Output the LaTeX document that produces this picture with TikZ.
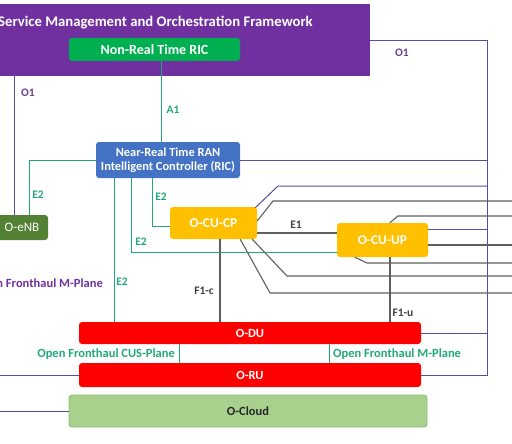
\documentclass[tikz,border=0pt]{standalone}
\usepackage{fontspec}
\setmainfont{Carlito}
\definecolor{smopurple}{HTML}{7030A0}
\definecolor{nrtgreen}{HTML}{00B050}
\definecolor{ricblue}{HTML}{4472C4}
\definecolor{enbgreen}{HTML}{548235}
\definecolor{cuorange}{HTML}{FFC000}
\definecolor{dured}{HTML}{FF0000}
\definecolor{cloudgreen}{HTML}{A9D18E}
\definecolor{cloudedge}{HTML}{8DB872}
\definecolor{ifgreen}{HTML}{22A878}
\definecolor{o1line}{HTML}{5E4A9E}
\definecolor{o1text}{HTML}{6A3F96}
\definecolor{grayline}{HTML}{5F5F5F}
\begin{document}
\begin{tikzpicture}[x=1pt,y=-1pt,
  box/.style={rectangle,rounded corners=3pt,inner sep=0pt,font=\bfseries,text=white},
  boxfont/.style={font=\bfseries\fontsize{12.5}{14}\selectfont},
  gline/.style={draw=ifgreen,line width=1pt},
  pline/.style={draw=o1line,line width=1pt},
  kline/.style={draw=grayline,line width=1.1pt},
  glabel/.style={font=\bfseries\fontsize{11.5}{13}\selectfont,text=ifgreen,inner sep=0pt},
  plabel/.style={font=\bfseries\fontsize{11.5}{13}\selectfont,text=o1text,inner sep=0pt},
  klabel/.style={font=\bfseries\fontsize{11.5}{13}\selectfont,text=black!75,inner sep=0pt},
  iflabel/.style={font=\bfseries\fontsize{12.5}{14}\selectfont,inner sep=0pt}]
\useasboundingbox (0,0) rectangle (512,444);
\clip (0,0) rectangle (512,444);
% boxes
\node[box,fill=smopurple,minimum width=385pt,minimum height=72pt,rounded corners=0pt] (smo) at (177.5,40) {};
\node[font=\bfseries\fontsize{14.7}{16}\selectfont,text=white,anchor=east,inner sep=0pt] (smotext) at (313,23) {Service Management and Orchestration Framework};
\node[box,fill=nrtgreen,minimum width=171pt,minimum height=23pt,font=\bfseries\fontsize{14}{15}\selectfont] (nonrt) at (154.5,49.5) {Non-Real Time RIC};
\node[box,fill=ricblue,minimum width=144pt,minimum height=36pt,align=center,font=\bfseries\fontsize{12.4}{14.5}\selectfont] (nearrt) at (168,160) {Near-Real Time RAN\\Intelligent Controller (RIC)};
\node[box,fill=enbgreen,minimum width=58pt,minimum height=25pt,font=\fontsize{13}{14}\selectfont] (oenb) at (19,227.5) {\hspace*{6pt}O-eNB};
\node[box,fill=cuorange,minimum width=87pt,minimum height=32pt,font=\bfseries\fontsize{13.5}{14}\selectfont] (cucp) at (213.5,223) {O-CU-CP};
\node[box,fill=cuorange,minimum width=91pt,minimum height=34pt,font=\bfseries\fontsize{13.5}{14}\selectfont] (cuup) at (382.5,240) {O-CU-UP};
\node[box,fill=dured,minimum width=342pt,minimum height=22pt,boxfont] (odu) at (250,333) {O-DU};
\node[box,fill=dured,minimum width=342pt,minimum height=24pt,boxfont] (oru) at (250,375) {O-RU};
\node[box,fill=cloudgreen,draw=cloudedge,line width=0.8pt,minimum width=358pt,minimum height=32pt,text=black!85,boxfont] (ocloud) at (248,411) {O-Cloud};
% coordinates
\coordinate (o1r) at (487,41);
\coordinate (o1b) at (487,375);
\coordinate (edge201) at (515,201);
\coordinate (edge216) at (515,216);
\coordinate (edge245) at (515,245);
\coordinate (edge263) at (515,263);
\coordinate (edge276) at (515,276);
\coordinate (edge293) at (515,293);
\coordinate (leftru) at (-5,375);
\coordinate (leftcl) at (-5,411);
% O1 lines
\draw[pline] (smo.east |- o1r) -- (o1r) -- (o1b) -- (oru.east |- o1b);
\draw[pline] (smo.south -| 14,0) -- (oenb.north -| 14,0);
\draw[pline] (nearrt.east) -- (nearrt.east -| o1r);
\draw[pline] (odu.east) -- (odu.east -| o1r);
\draw[pline] (cucp.north east) ++(-2,1) -- (278,186) -- (487,186);
\draw[pline] (cuup.east |- 0,229) -- (487,229);
\draw[pline] (oru.west) -- (leftru);
\draw[pline] (ocloud.west) -- (leftcl);
% gray lines
\draw[kline] (cucp.east |- 0,221) -- (273,201) -- (edge201);
\draw[kline] (cucp.south east) ++(-5,0) -- (287,276) -- (edge276);
\draw[kline] (cucp.south east) ++(-17,0) -- (270,293) -- (edge293);
\draw[kline] (cuup.north west) ++(53,0) -- (398,216) -- (edge216);
\draw[kline] (cuup.east |- 0,245) -- (edge245);
\draw[kline] (cuup.south west) ++(18,0) -- (367,263) -- (edge263);
\draw[kline] (cucp.east |- 0,233) -- (cuup.west |- 0,233);
\draw[kline] (cucp.south -| 220,0) -- (odu.north -| 220,0);
\draw[kline] (cuup.south -| 390,0) -- (odu.north -| 390,0);
% green lines
\draw[gline] (nonrt.south -| 161,0) -- (nearrt.north -| 161,0);
\draw[gline] (nearrt.west) -- (29,160) -- (oenb.north -| 29,0);
\draw[gline] (nearrt.south -| 152,0) |- (cucp.west |- 0,226);
\draw[gline] (nearrt.south -| 131,0) |- (cuup.west |- 0,252);
\draw[gline] (nearrt.south -| 114,0) -- (odu.north -| 114,0);
\draw[gline] (odu.south -| 179,0) -- (oru.north -| 179,0);
\draw[gline] (odu.south -| 329,0) -- (oru.north -| 329,0);
% labels
\node[plabel] (lo1r) at (402,53) {O1};
\node[plabel] (lo1l) at (28,93) {O1};
\node[glabel] (la1) at (173,110) {A1};
\node[glabel] (le2a) at (38,195) {E2};
\node[glabel] (le2b) at (161,197) {E2};
\node[glabel] (le2c) at (141,242) {E2};
\node[glabel] (le2d) at (122,282) {E2};
\node[klabel] (le1) at (296,225) {E1};
\node[klabel] (lf1c) at (204,291) {F1-c};
\node[klabel] (lf1u) at (403,313) {F1-u};
\node[iflabel,text=smopurple,anchor=east] (lmpl) at (103,284) {Open Fronthaul M-Plane};
\node[iflabel,text=ifgreen,anchor=east] (lcus) at (175,354) {Open Fronthaul CUS-Plane};
\node[iflabel,text=ifgreen,anchor=west] (lmp) at (333,354) {Open Fronthaul M-Plane};
\end{tikzpicture}
\end{document}
